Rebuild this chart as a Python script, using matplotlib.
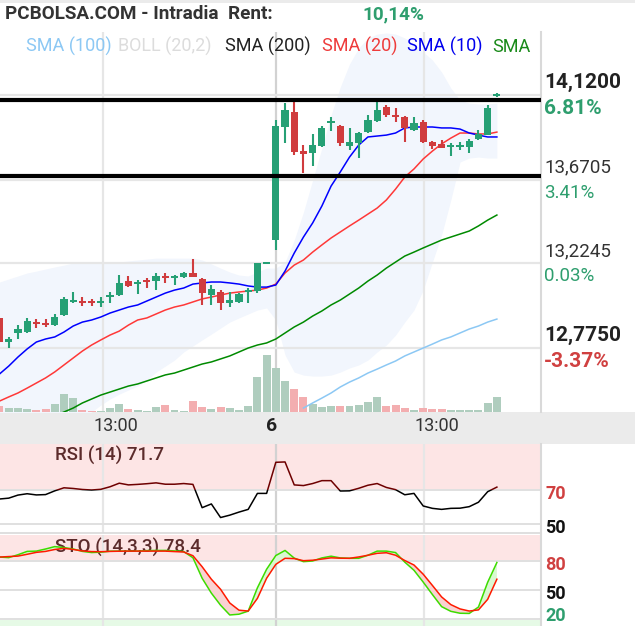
import numpy as np
import matplotlib
matplotlib.use('Agg')
import matplotlib.pyplot as plt
from matplotlib.patches import Rectangle
from matplotlib.transforms import blended_transform_factory

plt.rcParams['font.family'] = ['Roboto', 'DejaVu Sans']

# ---------------- data ----------------
opens = [12.935, 12.807, 12.855, 12.860, 12.908, 12.908, 12.897, 12.951, 13.020, 13.025,
         13.020, 13.015, 13.047, 13.057, 13.131, 13.116, 13.131, 13.131, 13.158, 13.147,
         13.153, 13.174, 13.142, 13.057, 13.073, 13.015, 13.020, 13.073, 13.078, 13.222,
         13.349, 13.950, 14.030, 13.822, 13.812, 13.849, 13.971, 13.955, 13.849, 13.865,
         13.923, 13.982, 14.056, 14.008, 14.003, 13.934, 13.976, 13.870, 13.859, 13.844,
         13.844, 13.844, 13.886, 13.907, 14.115]
highs = [12.935, 12.833, 12.897, 12.935, 12.929, 12.929, 12.956, 13.047, 13.073, 13.047,
         13.036, 13.047, 13.073, 13.163, 13.158, 13.137, 13.147, 13.174, 13.174, 13.163,
         13.179, 13.248, 13.147, 13.110, 13.084, 13.073, 13.068, 13.094, 13.227, 13.227,
         13.987, 14.077, 14.083, 13.854, 13.913, 13.955, 14.003, 13.961, 13.945, 13.923,
         14.014, 14.083, 14.067, 14.051, 14.008, 14.003, 13.987, 13.875, 13.881, 13.865,
         13.870, 13.886, 13.934, 14.067, 14.131]
lows = [12.807, 12.775, 12.823, 12.855, 12.881, 12.887, 12.892, 12.945, 13.015, 12.999,
        12.999, 12.993, 13.015, 13.052, 13.100, 13.062, 13.094, 13.084, 13.121, 13.110,
        13.147, 13.153, 13.004, 13.004, 12.977, 12.993, 13.015, 13.015, 13.068, 13.222,
        13.296, 13.865, 13.801, 13.705, 13.743, 13.844, 13.929, 13.849, 13.828, 13.785,
        13.918, 13.976, 14.003, 13.976, 13.870, 13.929, 13.865, 13.833, 13.838, 13.796,
        13.828, 13.812, 13.881, 13.907, 14.109]
closes = [12.807, 12.823, 12.876, 12.919, 12.903, 12.897, 12.940, 13.036, 13.031, 13.015,
          13.015, 13.020, 13.052, 13.121, 13.105, 13.121, 13.126, 13.158, 13.147, 13.153,
          13.174, 13.153, 13.068, 13.089, 13.015, 13.031, 13.062, 13.078, 13.227, 13.227,
          13.955, 14.040, 13.817, 13.806, 13.854, 13.945, 13.976, 13.865, 13.870, 13.918,
          13.987, 14.040, 14.014, 14.003, 13.945, 13.971, 13.870, 13.849, 13.838, 13.854,
          13.854, 13.875, 13.913, 14.051, 14.120]
volumes = [6, 4, 4, 3, 2, 3, 8, 18, 14, 2,
           1.5, 1.5, 4, 8, 3, 2, 1.5, 5, 7, 2,
           1.5, 11, 5, 3, 5, 4, 2, 6, 35, 57,
           44, 31, 23, 15, 8, 5, 6, 6, 6, 7,
           10, 15, 6, 7, 4, 2, 4, 3, 3, 2,
           2, 2, 2, 9, 15]
vol_dir = "rgggrrgggr" "rgggrgggrg" "grrgrggggg" "ggrrgggrgg" "ggrrrgrrrg" "ggggg"

sma10 = [12.637, 12.679, 12.727, 12.770, 12.807, 12.823, 12.834, 12.860, 12.892, 12.913,
         12.924, 12.940, 12.961, 12.977, 12.993, 13.004, 13.025, 13.046, 13.067, 13.083,
         13.094, 13.115, 13.121, 13.126, 13.126, 13.121, 13.115, 13.105, 13.099, 13.099,
         13.110, 13.184, 13.280, 13.365, 13.440, 13.530, 13.636, 13.711, 13.790, 13.854,
         13.897, 13.902, 13.907, 13.918, 13.945, 13.950, 13.950, 13.950, 13.945, 13.945,
         13.939, 13.918, 13.907, 13.897, 13.897]
sma20 = [12.493, 12.515, 12.536, 12.562, 12.589, 12.616, 12.648, 12.685, 12.722, 12.759,
         12.791, 12.818, 12.844, 12.865, 12.897, 12.924, 12.935, 12.956, 12.977, 12.993,
         13.004, 13.020, 13.036, 13.046, 13.057, 13.067, 13.073, 13.078, 13.083, 13.094,
         13.115, 13.174, 13.216, 13.243, 13.285, 13.323, 13.360, 13.392, 13.424, 13.455,
         13.487, 13.519, 13.562, 13.620, 13.684, 13.727, 13.780, 13.822, 13.860, 13.891,
         13.918, 13.918, 13.913, 13.913, 13.923]
sma200 = [None, None, None, None, None, None, 12.414, 12.435, 12.456, 12.483,
          12.504, 12.525, 12.541, 12.557, 12.573, 12.584, 12.600, 12.616, 12.632, 12.642,
          12.658, 12.674, 12.690, 12.701, 12.717, 12.733, 12.754, 12.775, 12.791, 12.802,
          12.823, 12.855, 12.887, 12.913, 12.945, 12.972, 13.004, 13.030, 13.062, 13.094,
          13.131, 13.163, 13.200, 13.232, 13.264, 13.285, 13.307, 13.328, 13.349, 13.365,
          13.381, 13.397, 13.424, 13.455, 13.482]
sma100 = [None] * 33 + [12.456, 12.483, 12.509, 12.536, 12.568, 12.594, 12.616,
                        12.642, 12.663, 12.685, 12.706, 12.733, 12.754, 12.775, 12.796, 12.818, 12.834,
                        12.855, 12.876, 12.892, 12.913, 12.929]
boll_upper = [13.126, 13.142, 13.158, 13.174, 13.184, 13.195, 13.206, 13.216, 13.227, 13.232,
              13.232, 13.232, 13.232, 13.232, 13.238, 13.243, 13.248, 13.253, 13.253, 13.253,
              13.253, 13.253, 13.243, 13.222, 13.200, 13.179, 13.163, 13.158, 13.179, 13.200,
              13.200, 13.232, 13.349, 13.498, 13.668, 13.838, 14.014, 14.163, 14.285, 14.370,
              14.423, 14.444, 14.450, 14.444, 14.423, 14.391, 14.349, 14.306, 14.242, 14.157,
              14.093, 14.077, 14.072, 14.072, 14.077]
boll_lower = [11.861, 11.940, 12.020, 12.100, 12.169, 12.233, 12.286, 12.328, 12.366, 12.403,
              12.435, 12.472, 12.504, 12.530, 12.552, 12.573, 12.605, 12.647, 12.679, 12.711,
              12.754, 12.786, 12.818, 12.849, 12.881, 12.913, 12.935, 12.956, 12.977, 12.988,
              12.924, 12.738, 12.647, 12.631, 12.626, 12.626, 12.631, 12.647, 12.669, 12.685,
              12.711, 12.754, 12.791, 12.844, 12.913, 12.977, 13.083, 13.232, 13.376, 13.562,
              13.764, 13.785, 13.790, 13.785, 13.785]

rsi = [64.7, 65.2, 67.0, 67.8, 67.1, 67.3, 69.5, 71.3, 70.9, 70.3,
       70.0, 70.4, 71.9, 74.0, 73.0, 73.3, 73.7, 74.2, 73.4, 73.4,
       73.8, 73.3, 59.6, 61.8, 53.8, 55.2, 57.0, 58.6, 68.0, 68.0,
       86.3, 86.5, 73.0, 72.6, 73.8, 75.5, 75.5, 69.4, 69.5, 71.0,
       72.8, 73.8, 71.5, 70.2, 67.2, 68.0, 60.6, 59.2, 58.6, 59.2,
       59.3, 60.2, 62.8, 69.0, 71.7]
sto_k = [84.1, 83.5, 86.5, 90.0, 90.3, 92.5, 95.0, 94.0, 92.5, 90.0,
         88.8, 89.2, 90.2, 90.3, 90.3, 90.3, 90.8, 91.0, 91.0, 90.5,
         89.8, 83.4, 62.0, 46.5, 33.9, 23.7, 24.5, 27.7, 52.0, 71.4,
         85.7, 91.0, 83.0, 79.3, 80.0, 83.2, 85.0, 83.2, 82.8, 82.8,
         86.0, 90.3, 90.3, 88.8, 78.8, 70.3, 58.0, 45.0, 32.4, 27.5,
         25.5, 25.3, 32.0, 57.8, 78.4]
sto_d = [84.1, 84.6, 85.1, 87.0, 89.0, 90.0, 92.0, 93.2, 92.0, 90.5,
         89.8, 89.7, 90.0, 90.2, 90.3, 90.3, 90.3, 90.3, 90.3, 89.8,
         89.4, 85.5, 74.0, 61.0, 50.5, 36.2, 28.7, 27.8, 41.0, 62.0,
         76.5, 82.8, 82.5, 80.3, 80.8, 82.0, 83.3, 82.9, 82.8, 84.2,
         86.0, 88.0, 88.6, 86.0, 80.5, 75.8, 66.2, 54.5, 42.5, 34.5,
         30.0, 27.8, 29.0, 40.0, 61.0]

support_levels = [14.093, 13.689]
price_levels = [14.12, 13.6705, 13.2245, 12.775]
price_labels = ["14,1200", "13,6705", "13,2245", "12,7750"]
pct_labels = ["6.81%", "3.41%", "0.03%", "-3.37%"]
xgrid_pos = [11.24, 30.02, 46.09]
xtick_labels = ["13:00", "6", "13:00"]
legend_items = ["SMA (100)", "BOLL (20,2)", "SMA (200)", "SMA (20)", "SMA (10)", "SMA"]

# ---------------- style ----------------
GREEN = '#26a075'
RED = '#d03c3e'
VOL_G = '#afcdbe'
VOL_R = '#f3aeb0'
TXT_G = '#2e9e6e'
TXT_R = '#d04040'
PINK = '#fde5e5'
GRID = '#e6e6e6'

W, H = 635, 626


def frect(x0, y0, x1, y1):
    return [x0 / W, 1 - y1 / H, (x1 - x0) / W, (y1 - y0) / H]


fig = plt.figure(figsize=(W / 100, H / 100), dpi=100)
fig.patch.set_facecolor('white')

# background bands (behind everything)
fig.patches.append(Rectangle((0, 1 - 444 / H), 1, 32 / H, transform=fig.transFigure,
                             facecolor='#ebebeb', edgecolor='none', zorder=-5))
fig.patches.append(Rectangle((0, 1 - 3 / H), 1, 3 / H, transform=fig.transFigure,
                             facecolor='#ebebeb', edgecolor='none', zorder=-5))

n = len(closes)
idx = np.arange(n)
xlim = (0.054, 58.79)

ax = fig.add_axes(frect(0, 32, 541, 412))
ax_rsi = fig.add_axes(frect(0, 444, 541, 533))
ax_sto = fig.add_axes(frect(0, 535, 541, 626))

for a in (ax, ax_rsi, ax_sto):
    a.set_xlim(*xlim)
    a.set_xticks([])
    a.set_yticks([])
    for s in ('left', 'top', 'bottom'):
        a.spines[s].set_visible(False)
    a.spines['right'].set_color('#d9d9d9')
    a.spines['right'].set_linewidth(1.5)
    for i, xg in enumerate(xgrid_pos):
        a.axvline(xg, color='#d2d2d2' if i == 1 else GRID, lw=1.6, zorder=0.5)

ax_rsi.spines['bottom'].set_visible(True)
ax_rsi.spines['bottom'].set_color('#d9d9d9')
ax_rsi.spines['bottom'].set_linewidth(1.2)

# ---------------- main price panel ----------------
ax.set_ylim(12.435, 14.455)
for lvl in price_levels:
    ax.axhline(lvl, color=GRID, lw=1.6, zorder=0.5)

ax.fill_between(idx, boll_lower, boll_upper, color='#f2f6fd', lw=0, zorder=0.2)

vol = np.array(volumes, dtype=float)
vol_top = vol.max() / 0.15
trans = blended_transform_factory(ax.transData, ax.transAxes)
ax.bar(idx, vol / vol_top, width=0.86, bottom=0,
       color=[VOL_G if c == 'g' else VOL_R for c in vol_dir],
       transform=trans, lw=0, zorder=1)

ax.plot(idx, np.array(sma100, dtype=float), color='#8cc8f4', lw=1.1, zorder=2)
ax.plot(idx, np.array(sma200, dtype=float), color='#008a00', lw=1.1, zorder=2)
ax.plot(idx, sma20, color='#ff3838', lw=1.1, zorder=2)
ax.plot(idx, sma10, color='#0000ff', lw=1.1, zorder=2)

o = np.array(opens); c = np.array(closes)
cols = [GREEN if cc >= oo else RED for oo, cc in zip(o, c)]
ax.vlines(idx, lows, highs, colors=cols, lw=1.5, zorder=3)
body_h = np.maximum(np.abs(c - o), 0.009)
ax.bar(idx, body_h, bottom=np.minimum(o, c), width=0.78, color=cols, lw=0, zorder=3)

for lvl in support_levels:
    ax.axhline(lvl, color='black', lw=3.0, zorder=4)

for lvl, pl, pc, i in zip(price_levels, price_labels, pct_labels, range(4)):
    bold = i in (0, 3)
    ax.annotate(pl, xy=(1, lvl), xycoords=('axes fraction', 'data'), xytext=(3, 12.5),
                textcoords='offset pixels', ha='left', va='center', annotation_clip=False,
                fontsize=15 if bold else 13.5, fontweight='bold' if bold else 'normal',
                color='#222222' if bold else '#333333')
    ax.annotate(pc, xy=(1, lvl), xycoords=('axes fraction', 'data'), xytext=(3, -13),
                textcoords='offset pixels', ha='left', va='center', annotation_clip=False,
                fontsize=15 if bold else 13.5, fontweight='bold' if bold else 'normal',
                color=(TXT_R if pc.startswith('-') else TXT_G))

# x labels in grey band
for xg, lab in zip(xgrid_pos, xtick_labels):
    ax.annotate(lab, xy=(xg, 0), xycoords=('data', 'axes fraction'), xytext=(-10, -14),
                textcoords='offset pixels', ha='left', va='center', annotation_clip=False,
                fontsize=13 if lab != '6' else 14,
                fontweight='bold' if lab == '6' else 'normal',
                color='#222222' if lab == '6' else '#333333', zorder=10)

# header
fig.text(5 / W, 1 - 19 / H, "PCBOLSA.COM - Intradia  Rent:", ha='left', va='baseline',
         fontsize=13.6, fontweight='bold', color='#333333')
fig.text(362 / W, 1 - 19 / H, "10,14%", ha='left', va='baseline',
         fontsize=13.6, fontweight='bold', color=TXT_G)

leg_x = [26, 118, 225, 322, 407, 492]
leg_c = ['#8cc8f4', '#dcdcdc', '#222222', '#ee3b3b', '#0000ee', '#1a8a1a']
for x0, t, col in zip(leg_x, legend_items, leg_c):
    fig.text(x0 / W, 1 - 52 / H, t, ha='left', va='baseline', fontsize=13, color=col, zorder=10)

# ---------------- RSI panel ----------------
ax_rsi.set_ylim(44.7, 97.06)
ax_rsi.axhspan(70, 200, color=PINK, lw=0, zorder=0)
for lvl in (70, 50):
    ax_rsi.axhline(lvl, color='#e0e0e0', lw=1.4, zorder=0.5)
ln_lo, = ax_rsi.plot(idx, rsi, color='black', lw=1.1, zorder=3)
ln_hi, = ax_rsi.plot(idx, rsi, color='#6e0000', lw=1.1, zorder=3)
ln_hi.set_clip_path(Rectangle((-10, 70), 100, 100, transform=ax_rsi.transData))
ln_lo.set_clip_path(Rectangle((-10, -10), 100, 80, transform=ax_rsi.transData))
ax_rsi.text(55 / 541, 0.876, "RSI (14) %.1f" % rsi[-1], transform=ax_rsi.transAxes,
            ha='left', va='center', fontsize=13.5, fontweight='medium', color='#5c2b2b', zorder=2)
for lvl, col in ((70, TXT_R), (50, '#111111')):
    ax_rsi.annotate(str(lvl), xy=(1, lvl), xycoords=('axes fraction', 'data'), xytext=(4, -4.5),
                    textcoords='offset pixels', ha='left', va='center', annotation_clip=False,
                    fontsize=13, fontweight='bold', color=col)

# ---------------- STO panel ----------------
ax_sto.set_ylim(12.2, 107.1)
ax_sto.axhspan(80, 200, color=PINK, lw=0, zorder=0)
ax_sto.axhspan(-100, 20, color='#e6fae6', lw=0, zorder=0)
for lvl in (80, 50, 20):
    ax_sto.axhline(lvl, color='#e0e0e0', lw=1.4, zorder=0.5)
k = np.array(sto_k); d = np.array(sto_d)
ax_sto.text(55 / 541, 0.868, "STO (14,3,3) %.1f" % sto_k[-1], transform=ax_sto.transAxes,
            ha='left', va='center', fontsize=13.5, fontweight='medium', color='#5c2b2b', zorder=1)
ax_sto.fill_between(idx, k, d, where=k >= d, interpolate=True, color='#d9f8d2', lw=0, zorder=2)
ax_sto.fill_between(idx, k, d, where=k < d, interpolate=True, color='#f9d2d2', lw=0, zorder=2)
ax_sto.plot(idx, k, color='#3ddc00', lw=1.1, zorder=3)
ax_sto.plot(idx, d, color='#ff1a00', lw=1.1, zorder=3)
for lvl, col, dy in ((80, TXT_R, -4.5), (50, '#111111', -4.5), (20, TXT_G, 2.5)):
    ax_sto.annotate(str(lvl), xy=(1, lvl), xycoords=('axes fraction', 'data'), xytext=(4, dy),
                    textcoords='offset pixels', ha='left', va='center', annotation_clip=False,
                    fontsize=13, fontweight='bold', color=col)

fig.savefig('out.png', dpi=100, facecolor='white')
